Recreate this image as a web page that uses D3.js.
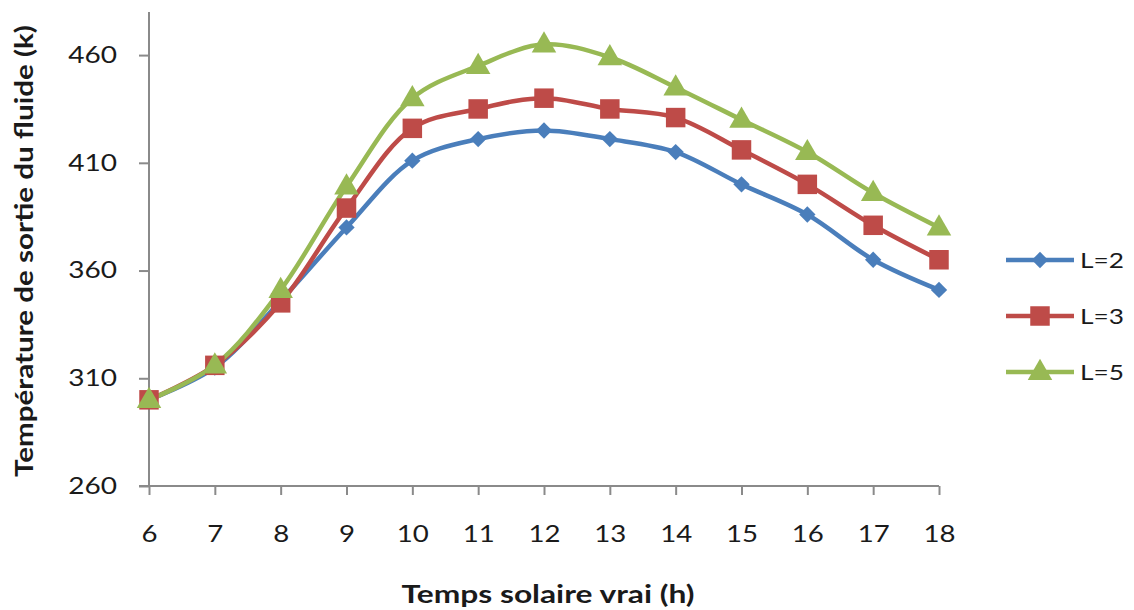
<!DOCTYPE html>
<html>
<head>
<meta charset="utf-8">
<script src="https://cdn.jsdelivr.net/npm/d3@7"></script>
<style>
  html, body { margin: 0; padding: 0; background: #fff; }
  svg { display: block; }
  text { font-family: Lato, "Open Sans", "Liberation Sans", sans-serif; fill: #1a1a1a; }
</style>
</head>
<body>
<svg id="chart" width="1134" height="610"></svg>
<script>
// Solar hours
const hours = [6, 7, 8, 9, 10, 11, 12, 13, 14, 15, 16, 17, 18];
// Fluid outlet temperature (K) for each collector length
const tempL2 = [300, 315, 346, 380, 411, 421, 425, 421, 415, 400, 386, 365, 351];
const tempL3 = [300, 316, 345, 389, 426, 435, 440, 435, 431, 416, 400, 381, 365];
const tempL5 = [300, 316, 351, 399, 440, 455, 465, 459, 445, 430, 415, 396, 380];
const yTicks = [260, 310, 360, 410, 460];
const seriesNames = ["L=2", "L=3", "L=5"];

const series = [
  { name: seriesNames[0], values: tempL2, color: "#4a7ebb", marker: "diamond" },
  { name: seriesNames[1], values: tempL3, color: "#be4b48", marker: "square" },
  { name: seriesNames[2], values: tempL5, color: "#98b954", marker: "triangle" }
];

const svg = d3.select("#chart");
const plotLeft = 149, plotRight = 939, plotTop = 12, plotBottom = 486;

const x = d3.scaleLinear().domain([6, 18]).range([plotLeft, plotRight]);
const y = d3.scaleLinear().domain([260, 480]).range([plotBottom, plotTop]);

const axisColor = "#8a8a8a";

// Widen text horizontally around its own anchor point
function stretch(sel, sx) {
  sel.each(function () {
    const t = d3.select(this);
    const tx = +t.attr("x") || 0, ty = +t.attr("y") || 0;
    t.attr("x", 0).attr("y", 0).attr("transform", `translate(${tx},${ty}) scale(${sx},1)`);
  });
}

// Y axis
const yAxis = svg.append("g").attr("transform", `translate(${plotLeft},0)`)
  .call(d3.axisLeft(y).tickValues(yTicks).tickSize(10).tickPadding(22).tickFormat(d3.format("d")));
yAxis.select(".domain").attr("stroke", axisColor).attr("stroke-width", 2).attr("d", `M0,${plotBottom}V${plotTop}`);
yAxis.selectAll(".tick line").attr("stroke", axisColor).attr("stroke-width", 2);
yAxis.selectAll(".tick text").style("font-size", "23px").attr("fill", "#1a1a1a").call(stretch, 1.22);

// X axis
const xAxis = svg.append("g").attr("transform", `translate(0,${plotBottom})`)
  .call(d3.axisBottom(x).tickValues(hours).tickSize(9).tickPadding(31).tickFormat(d3.format("d")));
xAxis.select(".domain").attr("stroke", axisColor).attr("stroke-width", 2).attr("d", `M${plotLeft - 10},0H${plotRight}`);
xAxis.selectAll(".tick line").attr("stroke", axisColor).attr("stroke-width", 2);
xAxis.selectAll(".tick text").style("font-size", "23px").attr("fill", "#1a1a1a").call(stretch, 1.2);

// Axis titles
svg.append("text")
  .attr("x", 548).attr("y", 603)
  .attr("text-anchor", "middle")
  .attr("textLength", 293).attr("lengthAdjust", "spacingAndGlyphs")
  .style("font-size", "25px").style("font-weight", "bold")
  .text("Temps solaire vrai (h)");

svg.append("text")
  .attr("transform", "translate(33,251) rotate(-90)")
  .attr("text-anchor", "middle")
  .attr("textLength", 452).attr("lengthAdjust", "spacingAndGlyphs")
  .style("font-size", "25px").style("font-weight", "bold")
  .text("Température de sortie du fluide (k)");

// Marker shapes
function markerPath(type) {
  if (type === "diamond") return d3.symbol().type(d3.symbolDiamond2).size(170)();
  if (type === "square") return d3.symbol().type(d3.symbolSquare).size(380)();
  return d3.symbol().type(d3.symbolTriangle).size(260)();
}

const line = d3.line()
  .x((d, i) => x(hours[i]))
  .y(d => y(d))
  .curve(d3.curveCatmullRom.alpha(0.5));

const plot = svg.append("g");
series.forEach(s => {
  plot.append("path")
    .attr("d", line(s.values))
    .attr("fill", "none")
    .attr("stroke", s.color)
    .attr("stroke-width", 4.5)
    .attr("stroke-linejoin", "round");
});
series.forEach(s => {
  plot.selectAll(null).data(s.values).enter().append("path")
    .attr("d", markerPath(s.marker))
    .attr("transform", (d, i) => `translate(${x(hours[i])},${y(d) + (s.marker === "triangle" ? 1 : 0)})`)
    .attr("fill", s.color);
});

// Legend
const legend = svg.append("g");
const legendY = [260, 316, 372];
series.forEach((s, i) => {
  const g = legend.append("g").attr("transform", `translate(0,${legendY[i]})`);
  g.append("line").attr("x1", 1006).attr("x2", 1074).attr("y1", 0).attr("y2", 0)
    .attr("stroke", s.color).attr("stroke-width", 4.5);
  g.append("path").attr("d", markerPath(s.marker))
    .attr("transform", `translate(1040,${s.marker === "triangle" ? 1 : 0})`)
    .attr("fill", s.color);
  g.append("text").attr("x", 1080).attr("y", 8)
    .style("font-size", "21px").text(s.name).call(stretch, 1.25);
});
</script>
</body>
</html>
